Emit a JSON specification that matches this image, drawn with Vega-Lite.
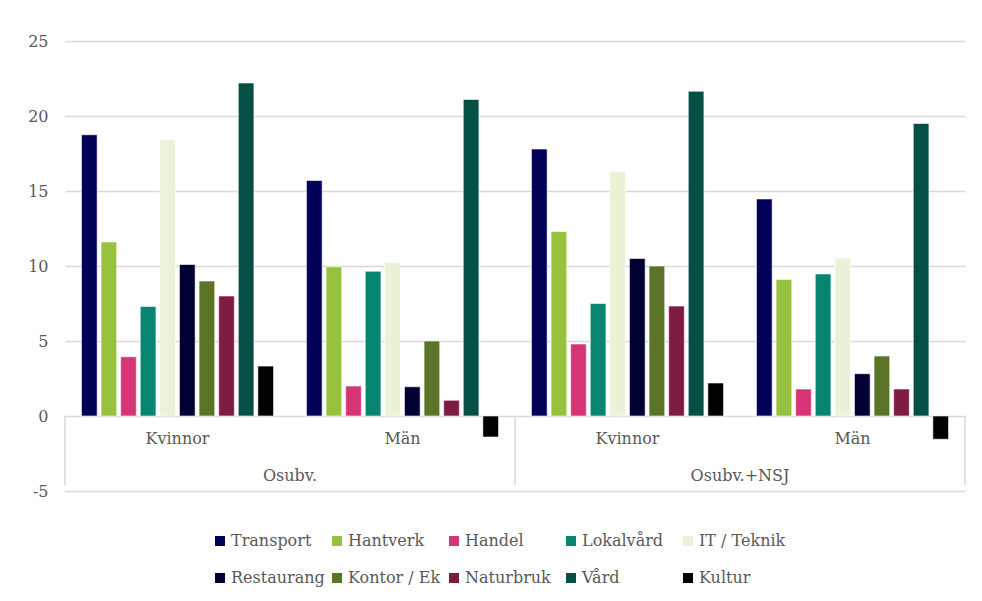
{
  "$schema": "https://vega.github.io/schema/vega-lite/v6.json",
  "width": 900,
  "height": 450,
  "autosize": "none",
  "padding": {"left": 65, "top": 41, "right": 17, "bottom": 110},
  "background": "white",
  "config": {
    "font": "DejaVu Serif",
    "view": {"stroke": null},
    "text": {"font": "DejaVu Serif", "fontSize": 16, "color": "#595959"}
  },
  "datasets": {
    "d": [
      {"g": "Osubv.|Kvinnor", "m": "Osubv.", "s": "Kvinnor", "serie": "Transport", "v": 18.75},
      {"g": "Osubv.|Kvinnor", "m": "Osubv.", "s": "Kvinnor", "serie": "Hantverk", "v": 11.6},
      {"g": "Osubv.|Kvinnor", "m": "Osubv.", "s": "Kvinnor", "serie": "Handel", "v": 3.95},
      {"g": "Osubv.|Kvinnor", "m": "Osubv.", "s": "Kvinnor", "serie": "Lokalvård", "v": 7.3},
      {"g": "Osubv.|Kvinnor", "m": "Osubv.", "s": "Kvinnor", "serie": "IT / Teknik", "v": 18.4},
      {"g": "Osubv.|Kvinnor", "m": "Osubv.", "s": "Kvinnor", "serie": "Restaurang", "v": 10.1},
      {"g": "Osubv.|Kvinnor", "m": "Osubv.", "s": "Kvinnor", "serie": "Kontor / Ek", "v": 9.0},
      {"g": "Osubv.|Kvinnor", "m": "Osubv.", "s": "Kvinnor", "serie": "Naturbruk", "v": 8.0},
      {"g": "Osubv.|Kvinnor", "m": "Osubv.", "s": "Kvinnor", "serie": "Vård", "v": 22.2},
      {"g": "Osubv.|Kvinnor", "m": "Osubv.", "s": "Kvinnor", "serie": "Kultur", "v": 3.33},
      {"g": "Osubv.|Män", "m": "Osubv.", "s": "Män", "serie": "Transport", "v": 15.7},
      {"g": "Osubv.|Män", "m": "Osubv.", "s": "Män", "serie": "Hantverk", "v": 9.95},
      {"g": "Osubv.|Män", "m": "Osubv.", "s": "Män", "serie": "Handel", "v": 2.0},
      {"g": "Osubv.|Män", "m": "Osubv.", "s": "Män", "serie": "Lokalvård", "v": 9.65},
      {"g": "Osubv.|Män", "m": "Osubv.", "s": "Män", "serie": "IT / Teknik", "v": 10.25},
      {"g": "Osubv.|Män", "m": "Osubv.", "s": "Män", "serie": "Restaurang", "v": 1.95},
      {"g": "Osubv.|Män", "m": "Osubv.", "s": "Män", "serie": "Kontor / Ek", "v": 5.0},
      {"g": "Osubv.|Män", "m": "Osubv.", "s": "Män", "serie": "Naturbruk", "v": 1.05},
      {"g": "Osubv.|Män", "m": "Osubv.", "s": "Män", "serie": "Vård", "v": 21.1},
      {"g": "Osubv.|Män", "m": "Osubv.", "s": "Män", "serie": "Kultur", "v": -1.4},
      {"g": "Osubv.+NSJ|Kvinnor", "m": "Osubv.+NSJ", "s": "Kvinnor", "serie": "Transport", "v": 17.8},
      {"g": "Osubv.+NSJ|Kvinnor", "m": "Osubv.+NSJ", "s": "Kvinnor", "serie": "Hantverk", "v": 12.3},
      {"g": "Osubv.+NSJ|Kvinnor", "m": "Osubv.+NSJ", "s": "Kvinnor", "serie": "Handel", "v": 4.8},
      {"g": "Osubv.+NSJ|Kvinnor", "m": "Osubv.+NSJ", "s": "Kvinnor", "serie": "Lokalvård", "v": 7.5},
      {"g": "Osubv.+NSJ|Kvinnor", "m": "Osubv.+NSJ", "s": "Kvinnor", "serie": "IT / Teknik", "v": 16.3},
      {"g": "Osubv.+NSJ|Kvinnor", "m": "Osubv.+NSJ", "s": "Kvinnor", "serie": "Restaurang", "v": 10.5},
      {"g": "Osubv.+NSJ|Kvinnor", "m": "Osubv.+NSJ", "s": "Kvinnor", "serie": "Kontor / Ek", "v": 10.0},
      {"g": "Osubv.+NSJ|Kvinnor", "m": "Osubv.+NSJ", "s": "Kvinnor", "serie": "Naturbruk", "v": 7.33},
      {"g": "Osubv.+NSJ|Kvinnor", "m": "Osubv.+NSJ", "s": "Kvinnor", "serie": "Vård", "v": 21.65},
      {"g": "Osubv.+NSJ|Kvinnor", "m": "Osubv.+NSJ", "s": "Kvinnor", "serie": "Kultur", "v": 2.2},
      {"g": "Osubv.+NSJ|Män", "m": "Osubv.+NSJ", "s": "Män", "serie": "Transport", "v": 14.47},
      {"g": "Osubv.+NSJ|Män", "m": "Osubv.+NSJ", "s": "Män", "serie": "Hantverk", "v": 9.1},
      {"g": "Osubv.+NSJ|Män", "m": "Osubv.+NSJ", "s": "Män", "serie": "Handel", "v": 1.8},
      {"g": "Osubv.+NSJ|Män", "m": "Osubv.+NSJ", "s": "Män", "serie": "Lokalvård", "v": 9.47},
      {"g": "Osubv.+NSJ|Män", "m": "Osubv.+NSJ", "s": "Män", "serie": "IT / Teknik", "v": 10.53},
      {"g": "Osubv.+NSJ|Män", "m": "Osubv.+NSJ", "s": "Män", "serie": "Restaurang", "v": 2.82},
      {"g": "Osubv.+NSJ|Män", "m": "Osubv.+NSJ", "s": "Män", "serie": "Kontor / Ek", "v": 4.0},
      {"g": "Osubv.+NSJ|Män", "m": "Osubv.+NSJ", "s": "Män", "serie": "Naturbruk", "v": 1.8},
      {"g": "Osubv.+NSJ|Män", "m": "Osubv.+NSJ", "s": "Män", "serie": "Vård", "v": 19.5},
      {"g": "Osubv.+NSJ|Män", "m": "Osubv.+NSJ", "s": "Män", "serie": "Kultur", "v": -1.55}
    ]
  },
  "data": {"name": "d"},
  "layer": [
    {
      "layer": [
        {
          "mark": {"type": "bar", "stroke": "#ffffff", "strokeWidth": 0.6},
          "encoding": {
            "x": {"field": "g", "type": "nominal", "sort": ["Osubv.|Kvinnor", "Osubv.|Män", "Osubv.+NSJ|Kvinnor", "Osubv.+NSJ|Män"], "axis": null, "scale": {"paddingInner": 0, "paddingOuter": 0}},
            "xOffset": {"field": "serie", "type": "nominal", "sort": ["Transport", "Hantverk", "Handel", "Lokalvård", "IT / Teknik", "Restaurang", "Kontor / Ek", "Naturbruk", "Vård", "Kultur"], "scale": {"paddingInner": 0.2, "paddingOuter": 0.84}},
            "y": {
              "field": "v", "type": "quantitative",
              "scale": {"domain": [-5, 25], "nice": false, "zero": false},
              "axis": {"title": null, "values": [-5, 0, 5, 10, 15, 20, 25], "labelExpr": "'' + datum.value", "grid": true, "gridColor": "#d9d9d9", "gridWidth": 1.5, "domain": false, "ticks": false, "labelPadding": 17, "labelColor": "#595959", "labelFontSize": 16, "labelFont": "DejaVu Serif"}
            },
            "color": {
              "field": "serie", "type": "nominal",
              "sort": ["Transport", "Hantverk", "Handel", "Lokalvård", "IT / Teknik", "Restaurang", "Kontor / Ek", "Naturbruk", "Vård", "Kultur"],
              "scale": {
                "domain": ["Transport", "Hantverk", "Handel", "Lokalvård", "IT / Teknik", "Restaurang", "Kontor / Ek", "Naturbruk", "Vård", "Kultur"],
                "range": ["#02025b", "#97c23e", "#d53574", "#068670", "#e9f3d8", "#000033", "#5b7428", "#7e1b42", "#045045", "#000000"]
              },
              "legend": {
                "title": null, "orient": "none", "legendX": 147, "legendY": 492, "direction": "horizontal",
                "columns": 5, "gridAlign": "all", "columnPadding": 4, "rowPadding": 21,
                "symbolType": "square", "symbolSize": 100, "symbolStrokeWidth": 0, "symbolOffset": 0,
                "labelFontSize": 16, "labelColor": "#595959", "labelFont": "DejaVu Serif", "labelOffset": 3, "labelLimit": 200
              }
            }
          }
        },
        {
          "transform": [{"aggregate": [{"op": "count", "as": "n"}], "groupby": ["g", "s"]}],
          "mark": {"type": "text", "fontSize": 16, "color": "#595959", "baseline": "middle"},
          "encoding": {
            "x": {"field": "g", "type": "nominal", "sort": ["Osubv.|Kvinnor", "Osubv.|Män", "Osubv.+NSJ|Kvinnor", "Osubv.+NSJ|Män"], "axis": null},
            "y": {"datum": -1.5},
            "text": {"field": "s"}
          }
        }
      ]
    },
    {
      "layer": [
        {
          "transform": [{"aggregate": [{"op": "count", "as": "n"}], "groupby": ["m"]}],
          "mark": {"type": "text", "fontSize": 16, "color": "#595959", "baseline": "middle"},
          "encoding": {
            "x": {"field": "m", "type": "nominal", "sort": ["Osubv.", "Osubv.+NSJ"], "axis": null, "scale": {"paddingInner": 0, "paddingOuter": 0}},
            "y": {"datum": -4.0},
            "text": {"field": "m"}
          }
        },
        {
          "transform": [{"aggregate": [{"op": "count", "as": "n"}], "groupby": ["m"]}],
          "mark": {"type": "rule", "color": "#d9d9d9", "strokeWidth": 1.5},
          "encoding": {
            "x": {"field": "m", "type": "nominal", "sort": ["Osubv.", "Osubv.+NSJ"], "bandPosition": 0, "axis": null},
            "y": {"datum": 0},
            "y2": {"datum": -4.6}
          }
        },
        {
          "transform": [{"aggregate": [{"op": "count", "as": "n"}], "groupby": ["m"]}, {"filter": "datum.m === 'Osubv.+NSJ'"}],
          "mark": {"type": "rule", "color": "#d9d9d9", "strokeWidth": 1.5},
          "encoding": {
            "x": {"field": "m", "type": "nominal", "sort": ["Osubv.", "Osubv.+NSJ"], "bandPosition": 1, "axis": null},
            "y": {"datum": 0},
            "y2": {"datum": -4.6}
          }
        }
      ]
    }
  ],
  "resolve": {"scale": {"x": "independent"}}
}
